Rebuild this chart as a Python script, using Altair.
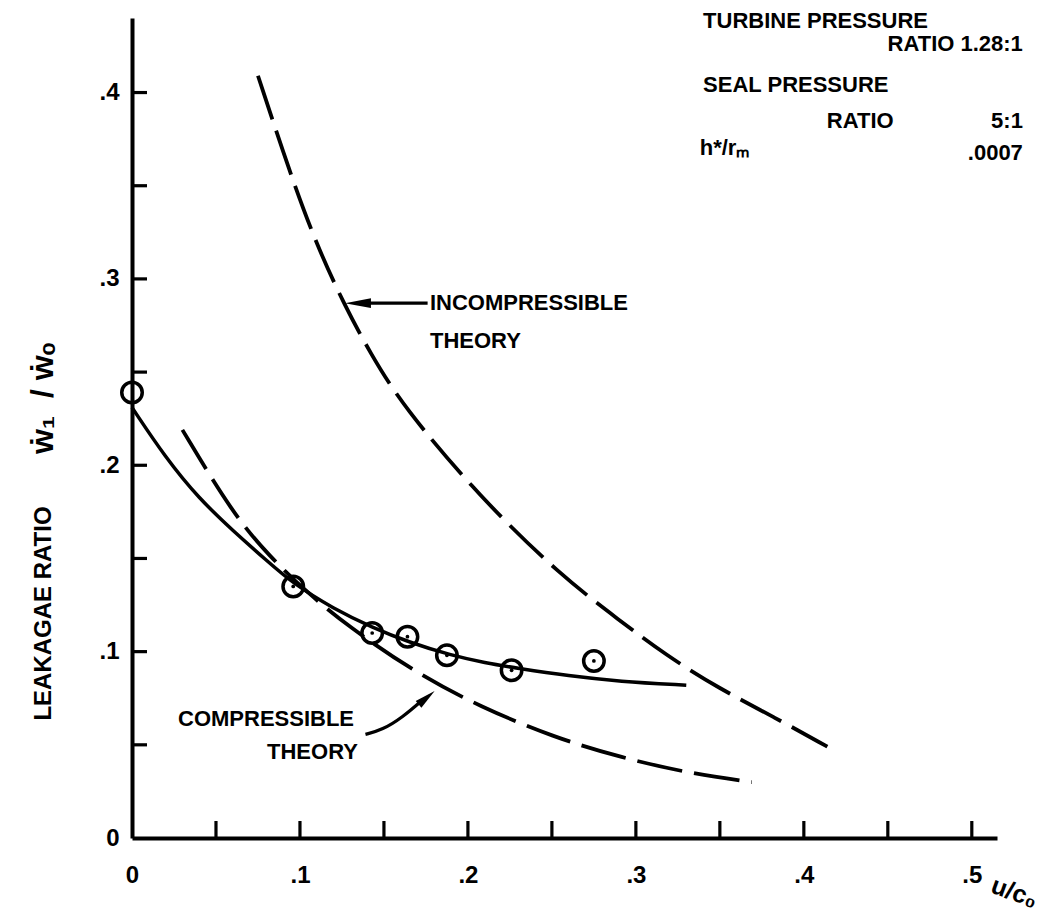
import altair as alt
import pandas as pd

# ---------------- data ----------------
# measured points (circles)
pts_x = [0.0, 0.096, 0.143, 0.164, 0.1875, 0.226, 0.275]
pts_y = [0.239, 0.135, 0.110, 0.108, 0.098, 0.090, 0.095]
pts_dot = [False, True, True, True, True, True, True]

# faired experimental curve (solid)
solid_x = [0.0, 0.02, 0.04, 0.06, 0.08, 0.096, 0.12, 0.143, 0.165, 0.19, 0.21, 0.23, 0.26, 0.29, 0.33]
solid_y = [0.231, 0.204, 0.182, 0.165, 0.149, 0.1365, 0.123, 0.113, 0.105, 0.098, 0.094, 0.091, 0.087, 0.084, 0.082]

# compressible theory (dashed)
comp_x = [0.030, 0.060, 0.082, 0.104, 0.128, 0.170, 0.207, 0.251, 0.292, 0.330, 0.369]
comp_y = [0.219, 0.174, 0.151, 0.132, 0.114, 0.088, 0.0706, 0.054, 0.043, 0.035, 0.030]

# incompressible theory (dashed)
incomp_x = [0.075, 0.094, 0.110, 0.127, 0.142, 0.161, 0.207, 0.255, 0.290, 0.318, 0.350, 0.382, 0.414]
incomp_y = [0.409, 0.357, 0.318, 0.285, 0.260, 0.232, 0.183, 0.141, 0.117, 0.098, 0.080, 0.065, 0.049]

# axes
x_label_vals = [0, 0.1, 0.2, 0.3, 0.4, 0.5]
y_label_vals = [0, 0.1, 0.2, 0.3, 0.4]
x_minor = [0.05, 0.1, 0.15, 0.2, 0.25, 0.3, 0.35, 0.4, 0.45, 0.5]
y_minor = [0.05, 0.1, 0.15, 0.2, 0.25, 0.3, 0.35, 0.4]

# annotations (text, x, y) in data units
left_text = ["INCOMPRESSIBLE", "THEORY", "COMPRESSIBLE", "THEORY",
             "TURBINE PRESSURE", "SEAL PRESSURE", "RATIO", "h*/rₘ"]
left_tx = [0.1774, 0.1774, 0.0274, 0.0804, 0.340, 0.340, 0.4137, 0.338]
left_ty = [0.287, 0.2665, 0.0638, 0.0463, 0.4384, 0.4038, 0.385, 0.370]
right_text = ["RATIO 1.28:1", "5:1", ".0007"]
right_tx = [0.5304, 0.5304, 0.5304]
right_ty = [0.426, 0.385, 0.3673]

# second part of the y-axis title (flow-rate ratio symbol)
ysym_text = ["ẇ₁\u00a0\u00a0/\u00a0ẇₒ"]
ysym_x = [-0.053]
ysym_y = [0.236]

# arrow for incompressible label
arr1_x = [0.1345, 0.176]
arr1_y = [0.287, 0.287]
# arrow for compressible label
arr2_x = [0.139, 0.149, 0.161, 0.1735]
arr2_y = [0.0556, 0.058, 0.0647, 0.0745]
head1_x, head1_y = [0.1345], [0.287]
head2_x, head2_y = [0.1754], [0.0753]

FONT = "Liberation Sans"

# ---------------- frames ----------------
pts = pd.DataFrame({"x": pts_x, "y": pts_y, "dot": pts_dot})
solid = pd.DataFrame({"x": solid_x, "y": solid_y})
comp = pd.DataFrame({"x": comp_x, "y": comp_y})
incomp = pd.DataFrame({"x": incomp_x, "y": incomp_y})
xt = pd.DataFrame({"x": x_minor, "y": [0.0] * len(x_minor)})
yt = pd.DataFrame({"x": [0.0] * len(y_minor), "y": y_minor})
lt = pd.DataFrame({"x": left_tx, "y": left_ty, "t": left_text})
rt = pd.DataFrame({"x": right_tx, "y": right_ty, "t": right_text})
ys = pd.DataFrame({"x": ysym_x, "y": ysym_y, "t": ysym_text})
a1 = pd.DataFrame({"x": arr1_x, "y": arr1_y})
a2 = pd.DataFrame({"x": arr2_x, "y": arr2_y})
h1 = pd.DataFrame({"x": head1_x, "y": head1_y})
h2 = pd.DataFrame({"x": head2_x, "y": head2_y})

LABEL_EXPR = "datum.value == 0 ? '0' : replace(format(datum.value, '.1f'), '0.', '.')"

X = alt.X(
    "x:Q",
    scale=alt.Scale(domain=[0, 0.515], nice=False, zero=False),
    axis=alt.Axis(
        values=x_label_vals, labelExpr=LABEL_EXPR,
        ticks=False, grid=False,
        domainColor="black", domainWidth=4,
        labelFont=FONT, labelFontSize=24, labelFontWeight="bold", labelColor="black",
        labelPadding=25, labelFlush=False, labelOverlap=False,
        title="u/c₀", titleX=882, titleY=54, titleAngle=20,
        titleFont=FONT, titleFontSize=25, titleFontWeight="bold", titleColor="black",
        titleAlign="center", titleBaseline="middle",
    ),
)
Y = alt.Y(
    "y:Q",
    scale=alt.Scale(domain=[0, 0.44], nice=False, zero=False),
    axis=alt.Axis(
        values=y_label_vals, labelExpr=LABEL_EXPR,
        ticks=False, grid=False,
        domainColor="black", domainWidth=4,
        labelFont=FONT, labelFontSize=24, labelFontWeight="bold", labelColor="black",
        labelPadding=13, labelFlush=False, labelOverlap=False,
        title="LEAKAGAE RATIO",
        titleX=-89, titleY=595, titleAngle=270,
        titleFont=FONT, titleFontSize=24, titleFontWeight="bold", titleColor="black",
        titleAlign="center", titleBaseline="middle",
    ),
)

dash = [46, 12]

l_solid = alt.Chart(solid).mark_line(color="black", strokeWidth=3.5, interpolate="basis").encode(x=X, y=Y)
l_comp = alt.Chart(comp).mark_line(color="black", strokeWidth=3.8, strokeDash=dash, interpolate="basis").encode(x=X, y=Y)
l_incomp = alt.Chart(incomp).mark_line(color="black", strokeWidth=3.8, strokeDash=dash, interpolate="basis").encode(x=X, y=Y)

circles = alt.Chart(pts).mark_point(shape="circle", size=420, filled=False, color="black", strokeWidth=3.5, opacity=1).encode(x=X, y=Y)
dots = alt.Chart(pts).transform_filter("datum.dot").mark_point(shape="circle", size=14, filled=True, color="black", opacity=1).encode(x=X, y=Y)

xticks = alt.Chart(xt).mark_tick(orient="vertical", size=17, thickness=3.2, yOffset=-8.5, color="black", opacity=1).encode(x=X, y=Y)
yticks = alt.Chart(yt).mark_tick(orient="horizontal", size=15, thickness=3.2, xOffset=7.5, color="black", opacity=1).encode(x=X, y=Y)

arrow1 = alt.Chart(a1).mark_line(color="black", strokeWidth=3.2).encode(x=X, y=Y)
arrow2 = alt.Chart(a2).mark_line(color="black", strokeWidth=3.2, interpolate="basis").encode(x=X, y=Y)
head1 = alt.Chart(h1).mark_point(shape="M-1,0L1,-0.38L1,0.38Z", size=676, filled=True, color="black", opacity=1).encode(x=X, y=Y)
head2 = alt.Chart(h2).mark_point(shape="M1,0L-1,-0.42L-1,0.42Z", size=440, angle=320, filled=True, color="black", opacity=1).encode(x=X, y=Y)

txt_l = alt.Chart(lt).mark_text(align="left", baseline="middle", font=FONT, fontSize=22, fontWeight="bold", color="black").encode(x=X, y=Y, text="t:N")
txt_r = alt.Chart(rt).mark_text(align="right", baseline="middle", font=FONT, fontSize=22, fontWeight="bold", color="black").encode(x=X, y=Y, text="t:N")
txt_sym = alt.Chart(ys).mark_text(align="center", baseline="middle", angle=270, font=FONT, fontSize=32, fontWeight="bold", color="black").encode(x=X, y=Y, text="t:N")

chart = alt.layer(
    l_incomp, l_comp, l_solid, arrow1, arrow2, head1, head2,
    circles, dots, xticks, yticks, txt_l, txt_r, txt_sym,
).properties(
    width=865, height=820,
    autosize=alt.AutoSizeParams(type="none"),
    padding={"left": 124, "top": 10, "right": 46, "bottom": 77},
    background="white",
).configure_view(stroke=None)

chart.save("out.html", embed_options={"renderer": "svg", "actions": False})
